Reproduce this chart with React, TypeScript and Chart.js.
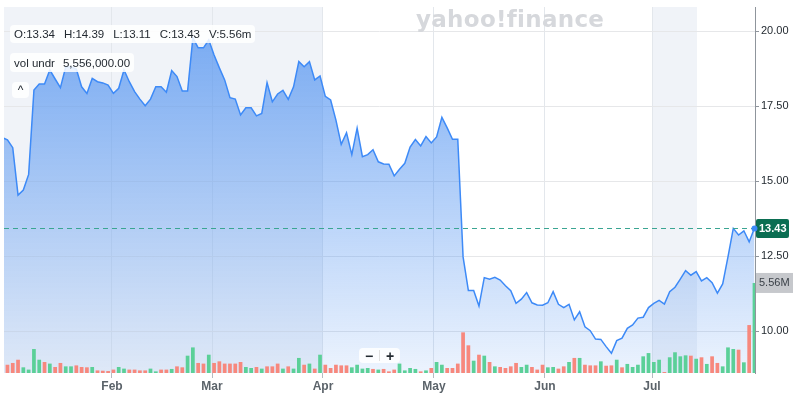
import React, { useEffect, useRef } from "react";
import { Chart, registerables } from "chart.js";

Chart.register(...registerables);

// Daily closing prices (one per trading day)
const closes = [
  16.45, 16.37, 16.11, 14.53, 14.7, 15.22, 18.03, 18.23, 18.23, 18.7,
  18.4, 18.11, 18.8, 18.8, 18.73, 18.14, 17.92, 18.42, 18.31, 18.27,
  18.2, 17.92, 18.09, 18.7, 18.31, 17.98, 17.73, 17.51, 17.73, 18.14,
  18.14, 17.96, 18.68, 18.48, 18.0, 18.0, 19.77, 19.44, 19.44, 19.7,
  19.2, 18.77, 18.37, 17.78, 17.73, 17.2, 17.44, 17.44, 17.17, 17.25,
  18.28, 17.64, 17.9, 18.02, 17.72, 18.14, 18.98, 18.81, 18.98, 18.37,
  18.5, 17.82, 17.7, 17.03, 16.22, 16.61, 15.88, 16.76, 15.81, 15.88,
  16.04, 15.64, 15.57, 15.56, 15.17, 15.39, 15.59, 16.13, 16.38, 16.17,
  16.48, 16.27, 16.47, 17.12, 16.77, 16.39, 16.39, 12.47, 11.35, 11.35,
  10.83, 11.78, 11.73, 11.79, 11.7, 11.51, 11.34, 10.92, 11.06, 11.28,
  10.94, 10.87, 10.86, 10.94, 11.31, 10.89, 10.78, 10.89, 10.37, 10.64,
  10.14, 10.01, 9.73, 9.72, 9.48, 9.26, 9.68, 9.76, 10.09, 10.2,
  10.43, 10.46, 10.78, 10.92, 11.02, 10.9, 11.31, 11.46, 11.73, 12.01,
  11.86, 11.98, 11.67, 11.78, 11.61, 11.26, 11.57, 12.47, 13.42, 13.2,
  13.34, 12.97, 13.43,
];

// Daily volume, millions of shares
const volumesM = [
  0.51, 0.51, 0.62, 0.82, 0.35, 0.21, 1.48, 0.82, 0.68, 0.58,
  0.37, 0.62, 0.41, 0.41, 0.47, 0.37, 0.35, 0.37, 0.16, 0.14,
  0.12, 0.21, 0.37, 0.27, 0.21, 0.21, 0.16, 0.16, 0.27, 0.1,
  0.21, 0.21, 0.25, 0.41, 0.35, 1.07, 1.58, 0.62, 0.58, 1.13,
  0.62, 0.72, 0.58, 0.58, 0.58, 0.68, 0.37, 0.31, 0.37, 0.27,
  0.41, 0.41, 0.58, 0.27, 0.41, 0.27, 0.93, 0.51, 0.58, 0.27,
  1.13, 0.51, 0.31, 0.51, 0.47, 0.47, 0.35, 0.51, 0.27, 0.31,
  0.25, 0.21, 0.25, 0.1, 0.21, 0.58, 0.16, 0.31, 0.25, 0.1,
  0.16, 0.31, 0.68, 0.51, 0.31, 0.31, 0.58, 2.51, 1.71, 0.76,
  1.13, 1.07, 0.68, 0.41, 0.37, 0.31, 0.41, 0.62, 0.37, 0.51,
  0.37, 0.21, 0.51, 0.35, 0.37, 0.27, 0.41, 0.68, 0.93, 0.93,
  0.51, 0.47, 0.47, 0.72, 0.45, 0.47, 0.82, 0.35, 0.56, 0.37,
  0.51, 1.03, 1.23, 0.68, 0.82, 0.06, 0.97, 1.28, 1.03, 1.09,
  1.07, 0.88, 0.97, 0.56, 1.03, 0.62, 0.41, 1.58, 1.48, 1.44,
  0.66, 2.96, 5.56,
];

// 1 = up day (green), 0 = down day (red)
const volumeUp = [
  0, 0, 0, 0, 1, 1, 1, 1, 0, 1,
  0, 0, 1, 1, 0, 0, 0, 1, 0, 0,
  0, 0, 1, 1, 0, 0, 0, 0, 1, 1,
  0, 0, 1, 0, 0, 1, 1, 0, 0, 1,
  0, 0, 0, 0, 0, 0, 1, 1, 0, 1,
  0, 0, 0, 1, 0, 1, 1, 0, 1, 0,
  1, 0, 0, 0, 0, 0, 1, 1, 1, 1,
  0, 1, 0, 0, 0, 1, 1, 1, 1, 0,
  1, 0, 1, 1, 0, 0, 0, 0, 0, 1,
  0, 1, 0, 1, 0, 0, 0, 0, 1, 1,
  0, 0, 0, 1, 1, 0, 0, 1, 0, 1,
  0, 0, 0, 1, 0, 0, 1, 0, 1, 1,
  1, 1, 1, 1, 1, 0, 1, 1, 1, 1,
  0, 1, 0, 1, 0, 0, 1, 1, 1, 0,
  1, 0, 1,
];

const monthLabels = ["Feb", "Mar", "Apr", "May", "Jun", "Jul"];
// month starts, in trading-day index units
const monthTickIdx = [20.73, 39.61, 60.56, 81.51, 102.46, 122.66];
const priceTicks = [10, 12.5, 15, 17.5, 20];
const shadedRanges = [
  [0.35, 60.56],
  [122.66, 131.15],
];
const lastClose = 13.43;
const lastVolumeLabel = "5.56M";
const lastVolume = 5.56;
const ohlcItems = ["O:13.34", "H:14.39", "L:13.11", "C:13.43", "V:5.56m"];
const volLabel = "vol undr";
const volValue = "5,556,000.00";

const FONT = '"Liberation Sans", Arial, sans-serif';
const LINE = "#3d8af7";
const GREEN = "#5bd098";
const RED = "#f7887d";

function roundRect(ctx: CanvasRenderingContext2D, x: number, y: number, w: number, h: number, r: number) {
  ctx.beginPath();
  ctx.moveTo(x + r, y);
  ctx.lineTo(x + w - r, y);
  ctx.quadraticCurveTo(x + w, y, x + w, y + r);
  ctx.lineTo(x + w, y + h - r);
  ctx.quadraticCurveTo(x + w, y + h, x + w - r, y + h);
  ctx.lineTo(x + r, y + h);
  ctx.quadraticCurveTo(x, y + h, x, y + h - r);
  ctx.lineTo(x, y + r);
  ctx.quadraticCurveTo(x, y, x + r, y);
  ctx.closePath();
}

const overlayPlugin = {
  id: "overlay",
  beforeDraw(chart: any) {
    const { ctx, chartArea: a, scales } = chart;
    const x = scales.x;
    ctx.save();
    ctx.fillStyle = "rgba(230,235,243,0.6)";
    for (const [s, e] of shadedRanges) {
      const x0 = Math.max(a.left, x.getPixelForValue(s));
      const x1 = Math.min(a.right, x.getPixelForValue(e));
      ctx.fillRect(x0, a.top, x1 - x0, a.bottom - a.top);
    }
    ctx.restore();
  },
  afterDraw(chart: any) {
    const { ctx, chartArea: a, scales } = chart;
    const y = scales.y;
    const yv = scales.yv;
    const py = Math.round(y.getPixelForValue(lastClose)) + 0.5;
    ctx.save();
    // dashed last-price line
    ctx.strokeStyle = "#3aa592";
    ctx.lineWidth = 1;
    ctx.setLineDash([5, 4]);
    ctx.beginPath();
    ctx.moveTo(a.left, py);
    ctx.lineTo(a.right, py);
    ctx.stroke();
    ctx.setLineDash([]);
    // price label
    ctx.fillStyle = "#0b6e52";
    roundRect(ctx, a.right + 1, py - 9.5, 33, 19, 2);
    ctx.fill();
    ctx.fillStyle = "#ffffff";
    ctx.font = `bold 11px ${FONT}`;
    ctx.textBaseline = "middle";
    ctx.textAlign = "left";
    ctx.fillText(lastClose.toFixed(2), a.right + 4, py + 0.5);
    // last point dot
    const px = chart.scales.x.getPixelForValue(closes.length - 1);
    ctx.fillStyle = LINE;
    ctx.beginPath();
    ctx.arc(px, py, 3, 0, Math.PI * 2);
    ctx.fill();
    // volume label
    const vy = yv.getPixelForValue(lastVolume);
    ctx.fillStyle = "#c6c8cc";
    ctx.fillRect(a.right + 1, vy - 10, 37, 20);
    ctx.fillStyle = "#3b4148";
    ctx.font = `11px ${FONT}`;
    ctx.fillText(lastVolumeLabel, a.right + 4, vy + 0.5);
    ctx.restore();
  },
};

export default function App() {
  const ref = useRef<HTMLCanvasElement | null>(null);

  useEffect(() => {
    document.body.style.margin = "0";
    const canvas = ref.current;
    if (!canvas) return;
    const chart = new Chart(canvas, {
      data: {
        datasets: [
          {
            type: "bar",
            yAxisID: "yv",
            order: 0,
            data: volumesM.map((v, i) => ({ x: i, y: v })),
            backgroundColor: volumeUp.map((u) => (u ? GREEN : RED)),
            barPercentage: 0.7,
            categoryPercentage: 1,
          } as any,
          {
            type: "line",
            yAxisID: "y",
            order: 1,
            data: closes.map((v, i) => ({ x: i, y: v })),
            borderColor: LINE,
            borderWidth: 1.5,
            pointRadius: 0,
            tension: 0,
            fill: "start",
            backgroundColor: (c: any) => {
              const a = c.chart.chartArea;
              if (!a) return "rgba(70,140,240,0.4)";
              const g = c.chart.ctx.createLinearGradient(0, a.top, 0, a.bottom);
              g.addColorStop(0, "rgba(70,140,240,0.74)");
              g.addColorStop(1, "rgba(70,140,240,0.10)");
              return g;
            },
          } as any,
        ],
      },
      options: {
        animation: false,
        responsive: false,
        maintainAspectRatio: false,
        layout: { padding: { left: 4, top: 7, right: 0, bottom: 0 } },
        plugins: { legend: { display: false }, tooltip: { enabled: false } },
        scales: {
          x: {
            type: "linear",
            offset: false,
            min: 0.35,
            max: 142.1,
            afterBuildTicks: (ax: any) => {
              ax.ticks = monthTickIdx.map((v) => ({ value: v }));
            },
            ticks: {
              autoSkip: false,
              maxRotation: 0,
              padding: 1,
              color: "#5b636a",
              font: { family: FONT, size: 12, weight: "bold" },
              callback: (_v: any, i: number) => monthLabels[i],
            },
            grid: { color: "#e3e7ec", tickColor: "#b6bbc1", tickLength: 5, offset: false },
            border: { display: false },
            afterFit: (s: any) => {
              s.height = 21;
              s.paddingLeft = 0;
              s.paddingRight = 0;
            },
          },
          y: {
            position: "right",
            min: 8.6,
            max: 20.8,
            afterBuildTicks: (ax: any) => {
              ax.ticks = priceTicks.map((v) => ({ value: v }));
            },
            ticks: {
              padding: 2,
              color: "#232a31",
              font: { family: FONT, size: 11 },
              callback: (v: any) => Number(v).toFixed(2),
            },
            grid: { color: "#e6e7e9", tickColor: "#8f959c", tickLength: 4 },
            border: { display: true, color: "#8f959c", width: 1 },
            afterFit: (s: any) => {
              s.width = 45;
              s.paddingTop = 0;
              s.paddingBottom = 0;
            },
          },
          yv: { display: false, min: 0, max: 22.6 },
        },
      } as any,
      plugins: [overlayPlugin],
    });
    return () => chart.destroy();
  }, []);

  const box: React.CSSProperties = {
    position: "absolute",
    background: "rgba(255,255,255,0.85)",
    borderRadius: 4,
    fontFamily: FONT,
    fontSize: 11.5,
    color: "#232a31",
    display: "flex",
    alignItems: "center",
    whiteSpace: "nowrap",
  };

  return (
    <div style={{ position: "fixed", left: 0, top: 0, width: 800, height: 394, background: "#fff" }}>
      <canvas ref={ref} width={800} height={394} style={{ display: "block", width: 800, height: 394 }} />
      <div
        style={{
          position: "absolute",
          left: 416,
          top: 6,
          fontFamily: '"DejaVu Sans", sans-serif',
          fontWeight: "bold",
          fontSize: 23,
          color: "#d6d8dc",
          letterSpacing: 0.3,
        }}
      >
        yahoo!finance
      </div>
      <div style={{ ...box, left: 10, top: 25, height: 18, padding: "0 4px", gap: 9 }}>
        {ohlcItems.map((t) => (
          <span key={t}>{t}</span>
        ))}
      </div>
      <div style={{ ...box, left: 10, top: 53, height: 19, padding: "0 4px", gap: 8 }}>
        <span>{volLabel}</span>
        <span>{volValue}</span>
      </div>
      <div style={{ ...box, left: 12, top: 82, width: 17, height: 16, justifyContent: "center", fontSize: 12 }}>
        ^
      </div>
      <div style={{ ...box, left: 359, top: 348, height: 15, width: 41, fontSize: 14, fontWeight: "bold" }}>
        <span style={{ width: 20, textAlign: "center" }}>−</span>
        <span style={{ width: 1, height: 11, background: "#e0e0e0" }} />
        <span style={{ width: 20, textAlign: "center" }}>+</span>
      </div>
    </div>
  );
}
